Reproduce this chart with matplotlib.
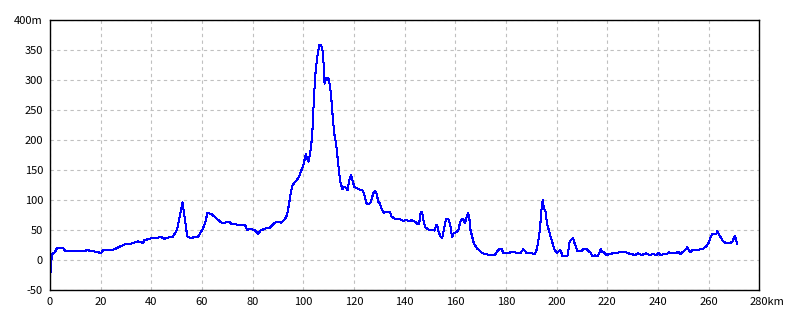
import matplotlib
matplotlib.use("Agg")
import matplotlib.pyplot as plt
import matplotlib.transforms as mtransforms

plt.rcParams["font.family"] = ["Noto Sans CJK JP", "DejaVu Sans"]

km = [0, 0.3, 0.8, 1.8, 2.8, 5.1, 6.0, 12.4, 15.0, 19.0, 20.0, 21.0, 25.0, 27.0,
      29.5, 32.0, 34.7, 36.7, 37.3, 40.0, 44.0, 45.3, 46.5, 48.5, 49.8, 50.5,
      52.3, 54.2, 55.9, 57.2, 58.5, 60.1, 61.2, 62.2, 63.8, 65.8, 67.7, 69.0,
      70.6, 71.7, 73.7, 75.0, 77.0, 77.9, 79.0, 81.0, 82.2, 83.1, 84.8, 86.8,
      88.8, 90.5, 91.2, 92.7, 93.6, 94.4, 95.0, 95.8, 97.4, 98.4, 99.3, 100.2,
      101.0, 101.5, 102.1, 102.6, 103.1, 103.7, 104.2, 104.8, 105.5, 106.3,
      106.9, 107.5, 108.0, 108.4, 108.8, 109.2, 109.8, 110.2, 110.9, 111.6,
      112.2, 112.9, 113.5, 114.2, 114.7, 115.5, 116.1, 117.1, 117.5, 118.0,
      118.8, 119.4, 120.1, 121.0, 122.3, 123.4, 123.9, 125.0, 125.9, 126.7,
      127.6, 128.3, 128.9, 129.6, 130.2, 131.1, 131.8, 133.1, 134.2, 134.8,
      136.1, 138.1, 139.5, 140.5, 141.4, 142.7, 144.0, 145.1, 145.7, 146.3,
      146.7, 147.1, 147.6, 148.3, 149.3, 150.0, 151.9, 152.3, 152.8, 153.4,
      154.2, 154.8, 155.5, 156.3, 157.2, 157.9, 158.5, 158.8, 159.2, 160.5,
      161.2, 161.8, 162.5, 163.1, 163.8, 164.4, 165.1, 165.5, 166.0, 166.7,
      167.3, 168.0, 168.6, 169.3, 170.4, 171.7, 173.6, 175.6, 176.5, 177.6,
      178.3, 178.9, 180.9, 182.9, 184.2, 185.9, 186.8, 187.5, 188.2, 190.2,
      191.4, 192.1, 192.7, 193.4, 194.0, 194.5, 195.0, 195.6, 196.2, 196.9,
      197.6, 198.4, 199.0, 200.0, 200.6, 201.3, 201.9, 202.3, 203.2, 204.1,
      204.5, 204.9, 205.5, 206.5, 206.9, 207.6, 208.1, 209.8, 210.5, 211.8,
      212.5, 213.4, 214.2, 215.1, 216.0, 216.8, 217.4, 218.1, 219.0, 219.6,
      220.9, 222.3, 223.6, 224.2, 224.9, 226.9, 228.2, 229.5, 230.8, 232.2,
      233.5, 235.2, 236.8, 238.1, 239.5, 240.2, 241.0, 242.7, 243.7, 244.2,
      244.6, 247.1, 248.0, 248.9, 250.0, 251.0, 251.6, 252.2, 252.9, 253.5,
      255.3, 256.3, 256.9, 257.9, 258.9, 259.6, 260.2, 260.8, 261.4, 262.5,
      263.1, 263.5, 263.9, 264.7, 265.4, 266.4, 267.7, 268.8, 269.4, 269.9,
      270.4, 270.8, 271.3]
elev = [-38, -10, 10, 12, 20, 20, 15, 15, 16, 13, 11, 16, 17, 21,
        26, 27, 31, 28, 33, 36, 38, 35, 37, 39, 47, 57,
        96, 39, 36, 39, 39, 50, 61, 79, 76, 69, 62, 62,
        64, 60, 59, 58, 58, 50, 52, 49, 43, 49, 52, 54,
        62, 64, 62, 68, 75, 94, 111, 125, 133, 140, 150, 161,
        177, 169, 164, 177, 189, 222, 272, 311, 339, 358,
        358, 353, 328, 294, 303, 300, 304, 298, 278, 239,
        211, 195, 172, 144, 128, 118, 122, 120, 116, 131,
        142, 133, 122, 120, 117, 116, 111, 94, 93, 97,
        111, 115, 111, 97, 94, 83, 79, 80, 80, 72,
        69, 68, 65, 67, 65, 66, 64, 60, 60, 78,
        80, 75, 61, 54, 51, 50, 49, 57, 59, 47,
        39, 36, 50, 68, 68, 61, 44, 38, 44, 47,
        49, 61, 68, 68, 62, 70, 78, 71, 50, 38,
        28, 23, 19, 17, 12, 10, 8, 8, 14, 19,
        18, 12, 12, 13, 12, 12, 18, 15, 11, 11,
        10, 17, 30, 50, 83, 100, 86, 81, 61, 50,
        39, 28, 19, 12, 13, 17, 12, 6, 6, 6,
        8, 28, 33, 36, 30, 22, 15, 15, 18, 18,
        15, 12, 6, 8, 6, 11, 18, 13, 12, 8,
        10, 11, 12, 12, 14, 14, 11, 10, 8, 11,
        8, 11, 8, 10, 8, 12, 8, 10, 10, 13,
        11, 11, 14, 10, 14, 18, 21, 16, 13, 16,
        16, 17, 19, 19, 22, 26, 30, 38, 43, 43,
        44, 48, 44, 38, 33, 29, 28, 29, 30, 36,
        40, 35, 26]

x_ticks = list(range(0, 281, 20))
x_labels = [str(v) for v in x_ticks[:-1]] + ["280km"]
y_ticks = list(range(-50, 401, 50))
y_labels = [str(v) for v in y_ticks[:-1]] + ["400m"]

fig = plt.figure(figsize=(8, 3.2), dpi=100)
ax = fig.add_axes([0.0625, 0.094, 0.8866, 0.8435])

ax.plot(km, elev, color="#0000ff", linewidth=0.75, antialiased=False)

ax.set_xlim(0, 280)
ax.set_ylim(-50, 400)
ax.set_xticks(x_ticks)
ax.set_xticklabels(x_labels)
ax.set_yticks(y_ticks)
ax.set_yticklabels(y_labels)
ax.tick_params(length=0, labelsize=8, pad=5, colors="black")
ax.grid(True, color="#c0c0c0", linestyle=(0, (3, 3)), linewidth=0.8)
for s in ax.spines.values():
    s.set_color("black")
    s.set_linewidth(1.0)

# keep "280" centred on its grid line, with "km" trailing to the right
last = ax.get_xticklabels()[-1]
last.set_ha("left")
last.set_transform(last.get_transform() +
                   mtransforms.ScaledTranslation(-10 / 100, 0, fig.dpi_scale_trans))

fig.savefig("out.png", dpi=100)
